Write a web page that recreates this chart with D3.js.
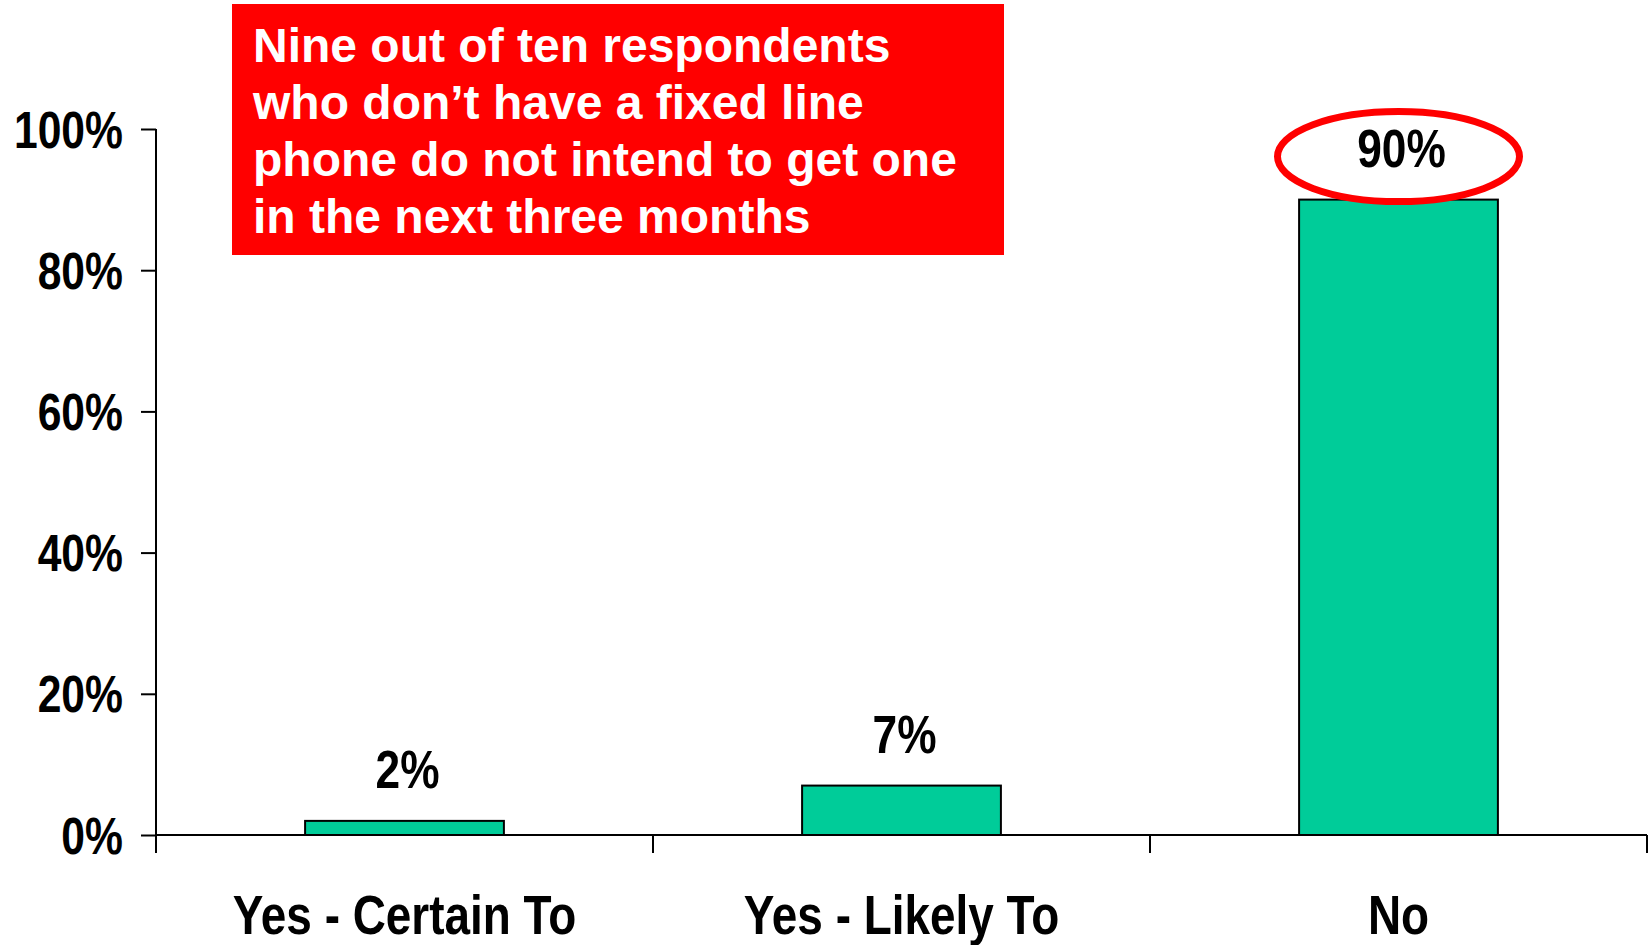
<!DOCTYPE html>
<html>
<head>
<meta charset="utf-8">
<script src="https://cdn.jsdelivr.net/npm/d3@7"></script>
<style>
  html, body { margin: 0; padding: 0; background: #fff; }
  svg { display: block; }
</style>
</head>
<body>
<svg id="chart" width="1650" height="945"></svg>
<script>
// Survey answers: intention to get a fixed line phone in the next three months
const categories = ["Yes - Certain To", "Yes - Likely To", "No"];
const values = [2, 7, 90];
const yTicks = [0, 20, 40, 60, 80, 100];
const calloutLines = [
  "Nine out of ten respondents",
  "who don\u2019t have a fixed line",
  "phone do not intend to get one",
  "in the next three months"
];

// Prefer a true narrow bold face; otherwise squeeze the regular bold face.
function hasFont(name) {
  const ctx = document.createElement("canvas").getContext("2d");
  const probe = "Yes - Certain To 100%";
  ctx.font = "bold 50px monospace";
  const a = ctx.measureText(probe).width;
  ctx.font = `bold 50px "${name}", monospace`;
  const b = ctx.measureText(probe).width;
  return Math.abs(a - b) > 0.5;
}
const narrowAvailable = hasFont("Liberation Sans Narrow");
const narrowFamily = narrowAvailable ? "'Liberation Sans Narrow', 'Arial Narrow'" : "'Liberation Sans', Arial, sans-serif";
const squeeze = narrowAvailable ? 1 : 0.82;

const svg = d3.select("#chart");
const W = 1650, H = 945;
svg.append("rect").attr("width", W).attr("height", H).attr("fill", "#fff");

const x = d3.scaleBand().domain(categories).range([156, 1647]).padding(0);
const y = d3.scaleLinear().domain([0, 100]).range([835, 129]);
const barW = x.bandwidth() * 0.4;

// Place a narrow-bold label at (px, py)
function narrowText(sel, px, py) {
  sel.attr("x", 0).attr("y", 0)
     .attr("transform", `translate(${px},${py}) scale(${squeeze},1)`)
     .attr("font-family", narrowFamily)
     .attr("font-weight", "bold")
     .attr("fill", "#000");
  return sel;
}

// Y axis
const yAxis = d3.axisLeft(y).tickValues(yTicks).tickSize(15).tickFormat(d => d + "%");
const gy = svg.append("g").attr("transform", "translate(156,0)").call(yAxis);
gy.select(".domain").remove();
gy.selectAll(".tick line").attr("stroke", "#000").attr("stroke-width", 2);
gy.selectAll(".tick text").each(function () {
  const t = d3.select(this);
  t.attr("dy", null).attr("text-anchor", "end").attr("font-size", 52);
  narrowText(t, -33, 18);
});
svg.append("line")
  .attr("x1", 156).attr("x2", 156)
  .attr("y1", y(100)).attr("y2", y(0) + 18)
  .attr("stroke", "#000").attr("stroke-width", 2);

// X axis baseline and category dividers
svg.append("line")
  .attr("x1", 156).attr("x2", x.range()[1])
  .attr("y1", y(0)).attr("y2", y(0))
  .attr("stroke", "#000").attr("stroke-width", 2);
svg.append("g").selectAll("line")
  .data(categories)
  .join("line")
  .attr("x1", d => x(d) + x.bandwidth())
  .attr("x2", d => x(d) + x.bandwidth())
  .attr("y1", y(0)).attr("y2", y(0) + 18)
  .attr("stroke", "#000").attr("stroke-width", 2);

svg.append("g").selectAll("text")
  .data(categories)
  .join("text")
  .attr("text-anchor", "middle")
  .attr("font-size", 56)
  .text(d => d)
  .each(function (d) { narrowText(d3.select(this), x(d) + x.bandwidth() / 2, 934); });

// Bars
svg.append("g").selectAll("rect")
  .data(values)
  .join("rect")
  .attr("x", (d, i) => x(categories[i]) + (x.bandwidth() - barW) / 2)
  .attr("y", d => y(d))
  .attr("width", barW)
  .attr("height", d => y(0) - y(d))
  .attr("fill", "#00CC99")
  .attr("stroke", "#000")
  .attr("stroke-width", 2);

// Value labels
svg.append("g").selectAll("text")
  .data(values)
  .join("text")
  .attr("text-anchor", "middle")
  .attr("font-size", 54)
  .text(d => d + "%")
  .each(function (d, i) { narrowText(d3.select(this), x(categories[i]) + x.bandwidth() / 2 + 3, y(d) - 33); });

// Highlight ring around the largest value
const maxIdx = values.indexOf(d3.max(values));
svg.append("ellipse")
  .attr("cx", x(categories[maxIdx]) + x.bandwidth() / 2)
  .attr("cy", y(values[maxIdx]) - 43)
  .attr("rx", 121)
  .attr("ry", 45)
  .attr("fill", "none")
  .attr("stroke", "#FF0000")
  .attr("stroke-width", 7);

// Callout box
const callout = svg.append("g");
callout.append("rect")
  .attr("x", 232).attr("y", 4)
  .attr("width", 772).attr("height", 251)
  .attr("fill", "#FF0000");
callout.selectAll("text")
  .data(calloutLines)
  .join("text")
  .attr("x", 253)
  .attr("y", (d, i) => 61.7 + i * 57.1)
  .attr("font-family", "'Liberation Sans', Arial, sans-serif")
  .attr("font-weight", "bold")
  .attr("font-size", 48)
  .attr("fill", "#fff")
  .text(d => d);
</script>
</body>
</html>
